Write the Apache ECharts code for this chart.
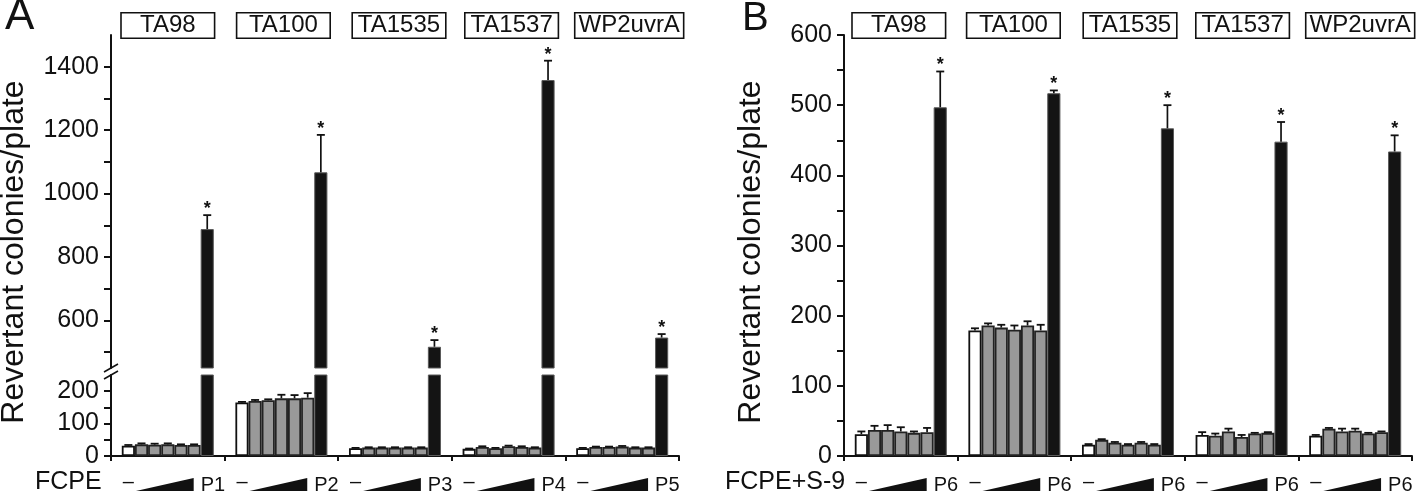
<!DOCTYPE html>
<html><head><meta charset="utf-8">
<script src="https://cdn.jsdelivr.net/npm/echarts@6/dist/echarts.min.js"></script>
<style>html,body{margin:0;padding:0;background:#fff}#c{width:1418px;height:493px}</style>
</head><body><div id="c"></div><script>
// ---------- data ----------
const strains = ['TA98', 'TA100', 'TA1535', 'TA1537', 'WP2uvrA'];
const levels = ['control', 'dose1', 'dose2', 'dose3', 'dose4', 'dose5', 'positive'];
const posLabelsA = ['P1', 'P2', 'P3', 'P4', 'P5'];
const posLabelsB = ['P6', 'P6', 'P6', 'P6', 'P6'];
const treatA = 'FCPE';
const treatB = 'FCPE+S-9';
const yTitle = 'Revertant colonies/plate';

// Panel A (without S-9): mean and SD per strain, [control, 5 doses, positive]
const aTA98     = [32, 36, 35, 36, 34, 34, 888];
const aTA98Sd   = [2, 3, 3, 3, 2, 2, 44];
const aTA100    = [165, 170, 172, 178, 178, 180, 1067];
const aTA100Sd  = [2, 3, 3, 11, 10, 14, 118];
const aTA1535   = [24, 26, 26, 26, 26, 26, 517];
const aTA1535Sd = [1, 1, 1, 1, 1, 1, 21];
const aTA1537   = [22, 28, 24, 30, 28, 26, 1358];
const aTA1537Sd = [1, 2, 1, 2, 2, 1, 61];
const aWP2      = [24, 28, 28, 29, 26, 26, 546];
const aWP2Sd    = [1, 1, 1, 2, 1, 1, 11];

// Panel B (with S-9)
const bTA98     = [31, 37, 37, 35, 33, 34, 497];
const bTA98Sd   = [4, 6, 7, 6, 2, 6, 51];
const bTA100    = [179, 186, 183, 180, 186, 179, 517];
const bTA100Sd  = [3, 3, 4, 6, 6, 8, 4];
const bTA1535   = [16, 23, 19, 16, 19, 16, 467];
const bTA1535Sd = [1, 1, 1, 1, 1, 1, 33];
const bTA1537   = [30, 29, 35, 27, 32, 33, 448];
const bTA1537Sd = [4, 3, 4, 3, 1, 1, 28];
const bWP2      = [29, 39, 35, 36, 32, 34, 434];
const bWP2Sd    = [1, 1, 4, 3, 1, 1, 23];

// axis ticks
const aUpperTicks = [500, 600, 700, 800, 900, 1000, 1100, 1200, 1300, 1400];
const aUpperLabels = [600, 800, 1000, 1200, 1400];
const aLowerTicks = [0, 50, 100, 150, 200];
const aLowerLabels = [0, 100, 200];

const meansA = [aTA98, aTA100, aTA1535, aTA1537, aWP2];
const sdA = [aTA98Sd, aTA100Sd, aTA1535Sd, aTA1537Sd, aWP2Sd];
const meansB = [bTA98, bTA100, bTA1535, bTA1537, bWP2];
const sdB = [bTA98Sd, bTA100Sd, bTA1535Sd, bTA1537Sd, bWP2Sd];

// ---------- style / layout ----------
const FONT = "'Liberation Sans', Arial, Helvetica, sans-serif";
const INK = '#111';
const GAP = 0.19;
const A_LEFT = 111, B_LEFT = 844, PW = 568;

function styleFor(s) {
  if (s === 0) return { color: '#fff', borderColor: INK, borderWidth: 1.8 };
  if (s === 6) return { color: '#141414', borderColor: '#5a5a5a', borderWidth: 1 };
  return { color: '#999', borderColor: '#222', borderWidth: 1.8 };
}

function barSeries(xi, yi, means, onlyPositive) {
  return levels.map((lv, s) => ({
    type: 'bar', name: lv, xAxisIndex: xi, yAxisIndex: yi,
    barGap: '0%', barCategoryGap: (GAP * 100) + '%',
    itemStyle: styleFor(s), silent: true, clip: true,
    data: means.map(row => (onlyPositive && s !== 6) ? '-' : row[s])
  }));
}

function errData(means, sds, which) {
  const out = [];
  means.forEach((row, g) => row.forEach((m, s) => { if (which(s)) out.push([g, m, sds[g][s], s]); }));
  return out;
}

function errRender(params, api) {
  const g = api.value(0), m = api.value(1), sd = api.value(2), s = api.value(3);
  const catW = api.size([1, 0])[0];
  const span = catW * (1 - GAP), bw = span / levels.length;
  const b = api.coord([g, m]), t = api.coord([g, m + sd]);
  const x = b[0] - span / 2 + (s + 0.5) * bw;
  const ch = [
    { type: 'line', shape: { x1: x, y1: b[1], x2: x, y2: t[1] }, style: { stroke: INK, lineWidth: 1.7 } },
    { type: 'line', shape: { x1: x - 4, y1: t[1], x2: x + 4, y2: t[1] }, style: { stroke: INK, lineWidth: 1.8 } }
  ];
  if (s === levels.length - 1) {
    ch.push({ type: 'text', style: { text: '*', x: x, y: t[1] - 6, align: 'center', verticalAlign: 'middle',
      font: 'bold 18px ' + FONT, fill: INK } });
  }
  return { type: 'group', children: ch };
}

function doseRender(labels) {
  return function (params, api) {
    const g = api.value(0);
    const c = api.coord([g, 0]);
    const catW = api.size([1, 0])[0];
    const span = catW * (1 - GAP), bw = span / levels.length;
    const st = c[0] - span / 2, y0 = c[1];
    return { type: 'group', children: [
      { type: 'text', style: { text: '–', x: st + bw / 2, y: y0 + 26, align: 'center', verticalAlign: 'middle',
        font: '20px ' + FONT, fill: INK } },
      { type: 'polygon', shape: { points: [[st + bw + 1, y0 + 35], [st + 6 * bw - 7, y0 + 22], [st + 6 * bw - 7, y0 + 35]] },
        style: { fill: INK } },
      { type: 'text', style: { text: labels[params.dataIndex], x: st + 6 * bw, y: y0 + 29, align: 'left',
        verticalAlign: 'middle', font: '20px ' + FONT, fill: INK } }
    ] };
  };
}

function boxRender(topVal, dxs) {
  return function (params, api) {
    const g = api.value(0);
    const c = api.coord([g, topVal]);
    const name = strains[params.dataIndex];
    const st = { text: name, x: c[0] + dxs[g], y: c[1] - 9.5, align: 'center', verticalAlign: 'middle',
      font: '24px ' + FONT, fill: INK, backgroundColor: '#fff', borderColor: INK, borderWidth: 1.6,
      padding: [1, 3, 0, 3], lineHeight: 23 };
    if (name.length <= 6) st.width = 86;
    return { type: 'text', style: st };
  };
}

const plain = v => String(v);
const yLabelStyle = { color: INK, fontFamily: FONT, fontSize: 25, margin: 12, formatter: plain };
const yLine = { show: true, lineStyle: { color: INK, width: 2 } };
const yTick = { show: true, length: 7, lineStyle: { color: INK, width: 2 } };
const xLine = { show: true, onZero: false, lineStyle: { color: INK, width: 2 } };
const xTick = { show: true, length: 5, lineStyle: { color: INK, width: 2 } };

const option = {
  animation: false,
  backgroundColor: '#fff',
  grid: [
    { left: A_LEFT, top: 35, width: PW, height: 333 },
    { left: A_LEFT, top: 375, width: PW, height: 81 },
    { left: B_LEFT, top: 35, width: PW, height: 421 }
  ],
  xAxis: [
    { type: 'category', gridIndex: 0, data: strains, show: false },
    { type: 'category', gridIndex: 1, data: strains, axisLine: xLine, axisTick: xTick, axisLabel: { show: false } },
    { type: 'category', gridIndex: 2, data: strains, axisLine: xLine, axisTick: xTick, axisLabel: { show: false } }
  ],
  yAxis: [
    { type: 'value', gridIndex: 0, min: 450, max: 1500, splitLine: { show: false }, axisLine: yLine,
      axisTick: Object.assign({ customValues: aUpperTicks }, yTick),
      axisLabel: Object.assign({ customValues: aUpperLabels }, yLabelStyle) },
    { type: 'value', gridIndex: 1, min: 0, max: 250, splitLine: { show: false }, axisLine: yLine,
      axisTick: Object.assign({ customValues: aLowerTicks }, yTick),
      axisLabel: Object.assign({ customValues: aLowerLabels }, yLabelStyle) },
    { type: 'value', gridIndex: 2, min: 0, max: 600, interval: 50, splitLine: { show: false }, axisLine: yLine,
      axisTick: yTick,
      axisLabel: Object.assign({}, yLabelStyle, { formatter: v => (v % 100 === 0 ? String(v) : '') }) }
  ],
  series: [].concat(
    barSeries(0, 0, meansA, true),
    barSeries(1, 1, meansA, false),
    barSeries(2, 2, meansB, false),
    [
      { type: 'custom', xAxisIndex: 0, yAxisIndex: 0, renderItem: errRender, encode: { x: 0, y: 1 }, silent: true, z: 5,
        data: errData(meansA, sdA, s => s === 6) },
      { type: 'custom', xAxisIndex: 1, yAxisIndex: 1, renderItem: errRender, encode: { x: 0, y: 1 }, silent: true, z: 5,
        data: errData(meansA, sdA, s => s < 6) },
      { type: 'custom', xAxisIndex: 2, yAxisIndex: 2, renderItem: errRender, encode: { x: 0, y: 1 }, silent: true, z: 5,
        data: errData(meansB, sdB, s => true) },
      { type: 'custom', xAxisIndex: 1, yAxisIndex: 1, renderItem: doseRender(posLabelsA), encode: { x: 0, y: 1 }, silent: true,
        data: strains.map((_, g) => [g, 0]) },
      { type: 'custom', xAxisIndex: 2, yAxisIndex: 2, renderItem: doseRender(posLabelsB), encode: { x: 0, y: 1 }, silent: true,
        data: strains.map((_, g) => [g, 0]) },
      { type: 'custom', xAxisIndex: 0, yAxisIndex: 0, renderItem: boxRender(1500, [0, 2, 4, 3, 7]), encode: { x: 0, y: 1 }, silent: true, z: 6,
        data: strains.map((_, g) => [g, 1500]) },
      { type: 'custom', xAxisIndex: 2, yAxisIndex: 2, renderItem: boxRender(600, [-2, -1, 2, 1, 5]), encode: { x: 0, y: 1 }, silent: true, z: 6,
        data: strains.map((_, g) => [g, 600]) }
    ]
  ),
  graphic: [
    { type: 'text', x: 5, y: 17, style: { text: 'A', font: '44px ' + FONT, fill: INK, align: 'left', verticalAlign: 'middle' } },
    { type: 'text', x: 742, y: 19, style: { text: 'B', font: '40px ' + FONT, fill: INK, align: 'left', verticalAlign: 'middle' } },
    { type: 'text', x: 14, y: 252, rotation: Math.PI / 2,
      style: { text: yTitle, font: '32px ' + FONT, fill: INK, align: 'center', verticalAlign: 'middle' } },
    { type: 'text', x: 751, y: 252, rotation: Math.PI / 2,
      style: { text: yTitle, font: '32px ' + FONT, fill: INK, align: 'center', verticalAlign: 'middle' } },
    { type: 'text', x: 35, y: 482, style: { text: treatA, font: '25px ' + FONT, fill: INK, align: 'left', verticalAlign: 'middle' } },
    { type: 'text', x: 725, y: 482, style: { text: treatB, font: '25px ' + FONT, fill: INK, align: 'left', verticalAlign: 'middle' } },
    { type: 'line', shape: { x1: 104, y1: 372, x2: 118, y2: 364 }, style: { stroke: INK, lineWidth: 1.6 } },
    { type: 'line', shape: { x1: 104, y1: 379, x2: 118, y2: 371 }, style: { stroke: INK, lineWidth: 1.6 } }
  ]
};

const chart = echarts.init(document.getElementById('c'), null, { renderer: 'canvas' });
chart.setOption(option);
</script></body></html>
